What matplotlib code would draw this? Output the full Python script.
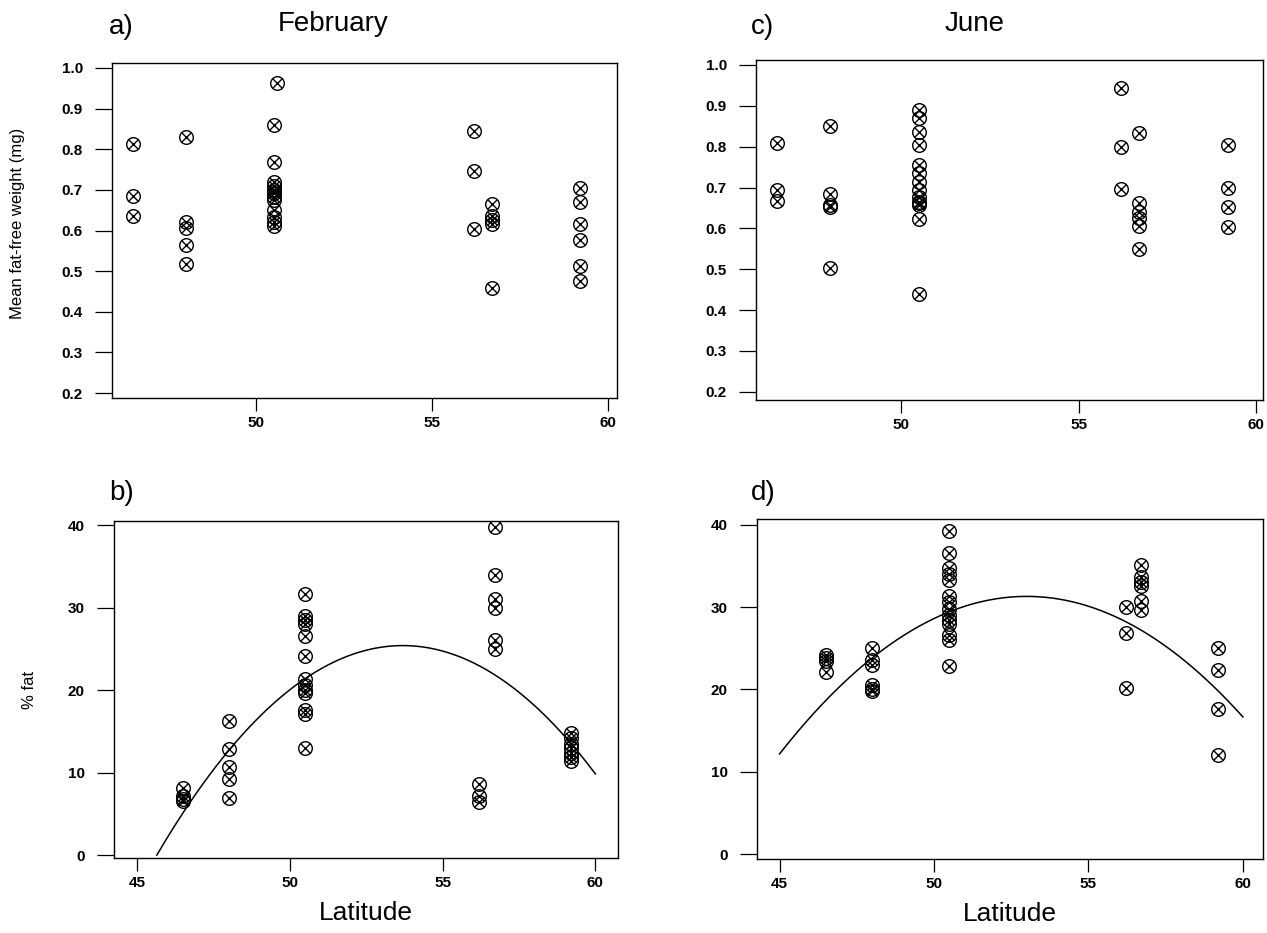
import matplotlib
matplotlib.use('Agg')
import matplotlib.pyplot as plt
import numpy as np

plt.rcParams['font.family'] = ['Liberation Sans', 'DejaVu Sans']

# sampling latitudes (deg N)
lat_a = [46.5] * 3 + [48.0] * 5 + [50.6] + [50.5] * 12 + [56.2] * 3 + [56.7] * 5 + [59.2] * 6
wt_feb = [0.812, 0.685, 0.636,
          0.830, 0.620, 0.605, 0.565, 0.518,
          0.962,
          0.860, 0.768, 0.720, 0.710, 0.700, 0.692, 0.683, 0.675, 0.650, 0.632, 0.620, 0.610,
          0.845, 0.746, 0.603,
          0.664, 0.635, 0.625, 0.617, 0.459,
          0.704, 0.671, 0.617, 0.576, 0.513, 0.477]

lat_c = [46.5] * 3 + [48.0] * 5 + [50.5] * 14 + [56.2] * 3 + [56.7] * 6 + [59.2] * 4
wt_jun = [0.810, 0.695, 0.668,
          0.850, 0.684, 0.657, 0.652, 0.503,
          0.890, 0.869, 0.836, 0.803, 0.755, 0.735, 0.714, 0.694, 0.677, 0.665, 0.661, 0.657, 0.624, 0.440,
          0.943, 0.800, 0.697,
          0.834, 0.663, 0.640, 0.625, 0.605, 0.550,
          0.804, 0.700, 0.652, 0.604]

lat_b = [46.5] * 4 + [48.0] * 5 + [50.5] * 13 + [56.2] * 3 + [56.7] * 6 + [59.2] * 7
fat_feb = [8.1, 7.2, 6.8, 6.5,
           16.2, 12.9, 10.7, 9.2, 6.9,
           31.7, 29.0, 28.5, 28.0, 26.5, 24.1, 21.3, 20.6, 20.0, 19.7, 17.6, 17.1, 13.0,
           8.6, 7.2, 6.4,
           39.8, 34.0, 31.1, 29.9, 26.1, 25.0,
           14.8, 14.2, 13.5, 13.0, 12.4, 11.9, 11.4]

lat_d = [46.5] * 4 + [48.0] * 6 + [50.5] * 14 + [56.2] * 3 + [56.7] * 6 + [59.2] * 4
fat_jun = [24.2, 23.8, 23.5, 22.1,
           25.0, 23.6, 23.0, 20.5, 20.1, 19.8,
           39.3, 36.6, 34.8, 34.0, 33.3, 31.3, 30.6, 29.8, 29.0, 28.4, 27.9, 26.6, 26.0, 22.9,
           30.0, 26.8, 20.2,
           35.1, 33.6, 33.1, 32.6, 30.8, 29.6,
           25.0, 22.3, 17.6, 12.0]

# fitted quadratic curves: peak latitude, peak value, curvature, x range
curve_feb = dict(h=53.7, k=25.4, a=-0.392, x0=45.65, x1=60.0)
curve_jun = dict(h=53.0, k=31.3, a=-0.299, x0=45.0, x1=60.0)

W, H = 1267, 933
fig = plt.figure(figsize=(W / 100, H / 100), dpi=100)


def box(l, t, r, b):
    return [l / W, 1 - b / H, (r - l) / W, (b - t) / H]


def otimes(ax, x, y):
    ax.plot(x, y, 'o', ms=9.8, mfc='none', mec='black', mew=1.0, ls='none')
    ax.plot(x, y, 'x', ms=6.8, mec='black', mew=1.0, ls='none')


def style(ax):
    for s in ax.spines.values():
        s.set_linewidth(1.0)
    ax.tick_params(axis='y', direction='out', length=12, width=0.9, pad=9, labelsize=11)
    ax.tick_params(axis='x', direction='out', length=9, width=0.9, pad=4, labelsize=11)
    for lab in ax.get_xticklabels() + ax.get_yticklabels():
        lab.set_fontweight('bold')


def curve(ax, c):
    xs = np.linspace(c['x0'], c['x1'], 200)
    ax.plot(xs, c['k'] + c['a'] * (xs - c['h']) ** 2, color='black', lw=1.1)


yt_top = [0.2, 0.3, 0.4, 0.5, 0.6, 0.7, 0.8, 0.9, 1.0]

ax_a = fig.add_axes(box(112, 63, 617, 398))
otimes(ax_a, lat_a, wt_feb)
ax_a.set_xlim(45.9, 60.25)
ax_a.set_ylim(0.188, 1.012)
ax_a.set_xticks([50, 55, 60])
ax_a.set_yticks(yt_top)
ax_a.set_yticklabels(['%.1f' % v for v in yt_top])
ax_a.set_ylabel('Mean fat-free weight (mg)', fontsize=12)
ax_a.yaxis.set_label_coords(-0.172, 0.52)
style(ax_a)

ax_c = fig.add_axes(box(756, 60, 1263, 400))
otimes(ax_c, lat_c, wt_jun)
ax_c.set_xlim(45.9, 60.2)
ax_c.set_ylim(0.18, 1.012)
ax_c.set_xticks([50, 55, 60])
ax_c.set_yticks(yt_top)
ax_c.set_yticklabels(['%.1f' % v for v in yt_top])
style(ax_c)

ax_b = fig.add_axes(box(114, 521, 618, 858))
otimes(ax_b, lat_b, fat_feb)
curve(ax_b, curve_feb)
ax_b.set_xlim(44.25, 60.74)
ax_b.set_ylim(-0.35, 40.5)
ax_b.set_xticks([45, 50, 55, 60])
ax_b.set_yticks([0, 10, 20, 30, 40])
ax_b.set_ylabel('% fat', fontsize=12)
ax_b.yaxis.set_label_coords(-0.153, 0.5)
ax_b.set_xlabel('Latitude', fontsize=19, labelpad=8)
style(ax_b)

ax_d = fig.add_axes(box(757, 519, 1263, 859))
otimes(ax_d, lat_d, fat_jun)
curve(ax_d, curve_jun)
ax_d.set_xlim(44.27, 60.65)
ax_d.set_ylim(-0.6, 40.7)
ax_d.set_xticks([45, 50, 55, 60])
ax_d.set_yticks([0, 10, 20, 30, 40])
ax_d.set_xlabel('Latitude', fontsize=19, labelpad=8)
style(ax_d)

fig.text(109 / W, 1 - 27 / H, 'a)', fontsize=20, va='center', ha='left')
fig.text(333 / W, 1 - 24 / H, 'February', fontsize=20, va='center', ha='center')
fig.text(751 / W, 1 - 27 / H, 'c)', fontsize=20, va='center', ha='left')
fig.text(975 / W, 1 - 24 / H, 'June', fontsize=20, va='center', ha='center')
fig.text(109 / W, 1 - 493 / H, 'b)', fontsize=20, va='center', ha='left')
fig.text(751 / W, 1 - 493 / H, 'd)', fontsize=20, va='center', ha='left')

fig.savefig('out.png', dpi=100)
